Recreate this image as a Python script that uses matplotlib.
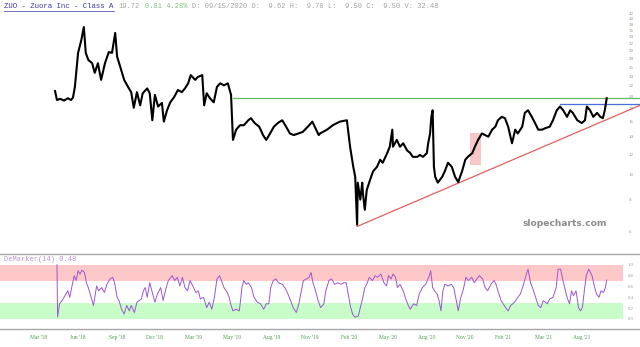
import matplotlib
matplotlib.use("Agg")
import matplotlib.pyplot as plt
from matplotlib.ticker import NullLocator

# price (session index, close)
px_s = [0, 3, 8, 14, 20, 25, 28, 31, 36, 41,
        45, 48, 52, 58, 62, 67, 72, 78, 84, 89,
        94, 97, 102, 108, 114, 119, 123, 128, 133, 137,
        144, 148, 152, 156, 161, 167, 170, 175, 180, 186,
        192, 198, 203, 208, 212, 219, 223, 230, 233, 237,
        242, 248, 253, 258, 264, 270, 275, 278, 283, 289,
        295, 302, 306, 312, 319, 325, 330, 336, 342, 348,
        355, 361, 367, 373, 380, 387, 395, 402, 408, 412,
        414, 425, 434, 445, 456, 461, 466, 469, 472, 473,
        477, 480, 481, 484, 487, 492, 497, 503, 508, 512,
        519, 523, 527, 528, 534, 539, 544, 550, 555, 559,
        566, 570, 575, 581, 583, 586, 588, 590, 592, 594,
        598, 605, 609, 614, 620, 625, 630, 636, 641, 645,
        652, 656, 661, 667, 672, 677, 683, 688, 692, 698,
        703, 708, 714, 719, 723, 730, 734, 739, 745, 750,
        755, 761, 766, 773, 778, 784, 789, 794, 800, 805,
        809, 816, 823, 828, 831, 836, 841, 847, 852, 856,
        859, 862]
px_v = [21.0, 19.4, 19.6, 19.3, 19.7, 19.4, 19.8, 21.8, 29.5, 33.0,
        37.1, 29.5, 27.7, 26.9, 24.7, 26.9, 23.2, 26.9, 29.7, 29.5,
        35.2, 28.5, 26.0, 23.2, 21.8, 20.8, 18.1, 20.8, 18.5, 20.6,
        21.5, 20.6, 16.2, 20.3, 18.3, 18.9, 16.0, 17.7, 19.0, 19.9,
        21.2, 20.8, 21.5, 22.5, 24.2, 23.2, 23.8, 24.2, 18.5, 20.6,
        19.7, 19.0, 21.8, 22.5, 22.1, 22.5, 20.3, 13.6, 14.9, 15.5,
        15.5, 16.2, 16.5, 15.8, 15.3, 14.2, 13.6, 14.4, 15.3, 15.8,
        16.2, 15.3, 14.4, 14.2, 14.4, 14.6, 15.3, 16.0, 14.9, 14.2,
        14.4, 14.9, 15.5, 16.0, 16.2, 12.8, 10.7, 9.8, 6.4, 9.3,
        8.0, 9.3, 8.5, 7.3, 8.7, 9.5, 10.3, 10.7, 11.4, 11.1,
        12.1, 12.8, 14.9, 12.8, 13.6, 12.8, 13.2, 12.4, 12.1, 11.7,
        11.7, 11.9, 11.7, 12.1, 13.2, 14.4, 16.7, 17.7, 10.7, 9.8,
        9.3, 9.8, 10.3, 11.1, 10.7, 9.8, 9.35, 10.3, 11.4, 11.7,
        12.1, 12.8, 13.6, 14.4, 14.2, 14.0, 14.9, 15.3, 16.2, 16.7,
        16.5, 15.3, 13.2, 14.9, 14.4, 15.3, 17.3, 17.7, 16.7, 15.8,
        14.9, 14.9, 15.1, 15.3, 16.2, 17.7, 18.3, 17.7, 16.7, 17.7,
        17.3, 16.2, 15.8, 16.2, 18.3, 17.7, 16.7, 17.3, 16.7, 16.5,
        17.7, 19.7]

# DeMarker(14)
dm_s = [3, 4, 7, 11, 17, 20, 23, 26, 30, 33,
        36, 39, 42, 46, 49, 52, 55, 60, 65, 68,
        73, 77, 81, 86, 90, 93, 97, 100, 104, 108,
        112, 116, 119, 124, 128, 135, 138, 141, 144, 148,
        152, 156, 160, 165, 169, 173, 177, 183, 187, 191,
        195, 199, 203, 207, 211, 214, 220, 224, 227, 232,
        237, 241, 245, 249, 253, 257, 260, 264, 269, 272,
        275, 278, 283, 288, 292, 295, 299, 302, 307, 311,
        316, 321, 326, 330, 334, 337, 341, 345, 349, 355,
        359, 364, 369, 372, 377, 381, 385, 388, 393, 397,
        400, 403, 407, 411, 415, 420, 423, 428, 432, 437,
        442, 447, 451, 455, 458, 462, 465, 469, 474, 477,
        481, 484, 487, 491, 496, 500, 504, 509, 514, 518,
        521, 525, 528, 532, 535, 539, 544, 548, 552, 555,
        560, 565, 569, 574, 579, 584, 587, 590, 593, 597,
        600, 603, 606, 609, 614, 619, 623, 627, 630, 634,
        638, 642, 646, 651, 655, 659, 663, 668, 672, 676,
        681, 686, 689, 692, 697, 704, 708, 712, 718, 723,
        727, 732, 735, 739, 743, 746, 751, 755, 759, 763,
        769, 773, 778, 783, 786, 790, 793, 797, 800, 804,
        807, 810, 814, 818, 821, 824, 827, 830, 834, 839,
        842, 846, 850, 853, 857, 860, 862]
dm_v = [1.0, 0.04, 0.28, 0.34, 0.46, 0.52, 0.40, 0.58, 0.80, 0.71,
        0.89, 0.83, 0.90, 0.86, 0.67, 0.58, 0.46, 0.25, 0.61, 0.52,
        0.58, 0.49, 0.64, 0.74, 0.77, 0.67, 0.40, 0.34, 0.18, 0.09,
        0.25, 0.15, 0.25, 0.12, 0.31, 0.37, 0.52, 0.58, 0.40, 0.67,
        0.49, 0.31, 0.46, 0.58, 0.34, 0.55, 0.71, 0.80, 0.71, 0.77,
        0.61, 0.77, 0.58, 0.52, 0.71, 0.64, 0.49, 0.52, 0.37, 0.40,
        0.21, 0.31, 0.18, 0.40, 0.74, 0.80, 0.71, 0.58, 0.49, 0.40,
        0.25, 0.15, 0.18, 0.15, 0.58, 0.71, 0.64, 0.67, 0.58, 0.40,
        0.31, 0.28, 0.18, 0.28, 0.28, 0.58, 0.71, 0.74, 0.67, 0.64,
        0.58, 0.46, 0.31, 0.21, 0.12, 0.28, 0.52, 0.71, 0.74, 0.77,
        0.86, 0.67, 0.52, 0.34, 0.21, 0.28, 0.52, 0.71, 0.74, 0.64,
        0.67, 0.64, 0.67, 0.67, 0.46, 0.21, 0.09, 0.03, 0.06, 0.21,
        0.40, 0.58, 0.64, 0.77, 0.71, 0.80, 0.77, 0.83, 0.67, 0.61,
        0.80, 0.74, 0.83, 0.77, 0.58, 0.64, 0.52, 0.37, 0.25, 0.18,
        0.28, 0.25, 0.46, 0.58, 0.64, 0.77, 0.89, 0.58, 0.52, 0.46,
        0.34, 0.15, 0.52, 0.64, 0.61, 0.64, 0.58, 0.34, 0.15, 0.40,
        0.55, 0.77, 0.71, 0.77, 0.67, 0.74, 0.80, 0.74, 0.58, 0.52,
        0.64, 0.71, 0.64, 0.52, 0.34, 0.21, 0.15, 0.25, 0.31, 0.40,
        0.46, 0.64, 0.77, 0.92, 0.67, 0.58, 0.40, 0.25, 0.21, 0.34,
        0.28, 0.37, 0.40, 0.58, 0.92, 0.92, 0.74, 0.55, 0.40, 0.28,
        0.52, 0.43, 0.52, 0.21, 0.15, 0.21, 0.52, 0.80, 0.92, 0.80,
        0.64, 0.46, 0.40, 0.52, 0.49, 0.58, 0.72]

# drawn studies
resist_s, resist_v = 278, 19.75     # green horizontal
top_s, top_v = 789, 18.7            # blue horizontal
trend_s = [472, 914]                # red trendline
trend_v = [6.3, 18.5]
box_s = [648, 666]
box_v = [10.9, 14.4]

price_ticks = [6, 8, 10, 12, 14, 16, 18, 20, 22, 24, 26, 28, 30, 32, 34, 36, 38, 40, 42]
dm_ticks = [0.0, 0.2, 0.4, 0.6, 0.8, 1.0]
date_ticks = [-25, 36, 97, 156, 216, 277, 339, 398, 459, 520, 581, 641, 700, 763, 823]
date_labels = ["Mar '18", "Jun '18", "Sep '18", "Dec '18", "Mar '19", "May '19", "Aug '19",
               "Nov '19", "Feb '20", "May '20", "Aug '20", "Nov '20", "Feb '21", "Mar '21",
               "Aug '21"]

W, H = 640, 347
XMIN, XMAX = -86, 914

fig = plt.figure(figsize=(W / 100, H / 100), dpi=100)
ax = fig.add_axes([0, (H - 252) / H, 1, 252 / H])
dm = fig.add_axes([0, (H - 329) / H, 1, 75 / H])

# --- price panel
ax.plot(px_s, px_v, color='black', lw=1.5, zorder=3)
ax.plot([resist_s, XMAX], [resist_v, resist_v], color='#66bb66', lw=0.9)
ax.plot([top_s, XMAX], [top_v, top_v], color='#4a6fd6', lw=0.9)
ax.plot(trend_s, trend_v, color='#e06060', lw=0.9)
ax.fill_between(box_s, box_v[0], box_v[1], color='#f2a0a0', alpha=0.6, lw=0, zorder=2)

ax.set_yscale('log')
ax.set_ylim(5.02, 47.2)
ax.set_xlim(XMIN, XMAX)
for sp in ax.spines.values():
    sp.set_visible(False)
ax.set_xticks([])
ax.yaxis.tick_right()
ax.set_yticks(price_ticks, [str(t) for t in price_ticks])
ax.yaxis.set_minor_locator(NullLocator())
ax.tick_params(axis='y', length=0, pad=-8, labelsize=3.6, labelcolor='#8a9a80')
for lab in ax.get_yticklabels():
    lab.set_family('Liberation Serif')

ax.text(0.883, 0.115, 'slopecharts.com', transform=ax.transAxes, ha='center', va='center',
        fontsize=6.6, fontweight='bold', color='#8c8c8c', family='DejaVu Sans')

# --- DeMarker panel
dm.axhspan(0.7, 1.0, xmax=623 / 640, color='#ffc8c8', lw=0)
dm.axhspan(0.0, 0.3, xmax=623 / 640, color='#c8fcc8', lw=0)
dm.plot(dm_s, dm_v, color='#9b55d6', lw=0.7)
dm.set_xlim(XMIN, XMAX)
dm.set_ylim(-0.185, 1.2)
for side in ['left', 'right']:
    dm.spines[side].set_visible(False)
for side in ['top', 'bottom']:
    dm.spines[side].set_color('#a8a8a8')
    dm.spines[side].set_linewidth(1.0)
dm.yaxis.tick_right()
dm.set_yticks(dm_ticks, ['%.1f' % t for t in dm_ticks])
dm.tick_params(axis='y', length=0, pad=-9, labelsize=3.4, labelcolor='#999999')
dm.set_xticks(date_ticks, date_labels)
dm.tick_params(axis='x', length=0, pad=4.5, labelsize=4, labelcolor='#4c9c4c')
for lab in dm.get_xticklabels() + dm.get_yticklabels():
    lab.set_family('Liberation Serif')

dm.text(4 / W, 0.93, 'DeMarker(14) 0.48', transform=dm.transAxes, ha='left', va='center',
        fontsize=5, color='#b890d0', family='Liberation Mono')

# --- header
def px(x, y):
    return x / W, 1 - y / H

fig.text(*px(4, 6), 'ZUO - Zuora Inc - Class A', ha='left', va='center', fontsize=5.3,
         color='#3a3aa0', family='Liberation Mono')
fig.add_artist(plt.Line2D([4 / W, 114 / W], [1 - 10.5 / H, 1 - 10.5 / H], color='#5a5ab8', lw=0.6))
fig.text(*px(119, 6), '19.72', ha='left', va='center', fontsize=5, color='#a0a0a0',
         family='Liberation Mono')
fig.text(*px(145, 6), '0.81 4.28%', ha='left', va='center', fontsize=5, color='#7cc07c',
         family='Liberation Mono')
fig.text(*px(192, 6), 'D: 09/15/2020 O:  9.62 H:  9.70 L:  9.50 C:  9.50 V: 32.48',
         ha='left', va='center', fontsize=5, color='#a0a0a0', family='Liberation Mono')

fig.savefig('out.png', dpi=100)
